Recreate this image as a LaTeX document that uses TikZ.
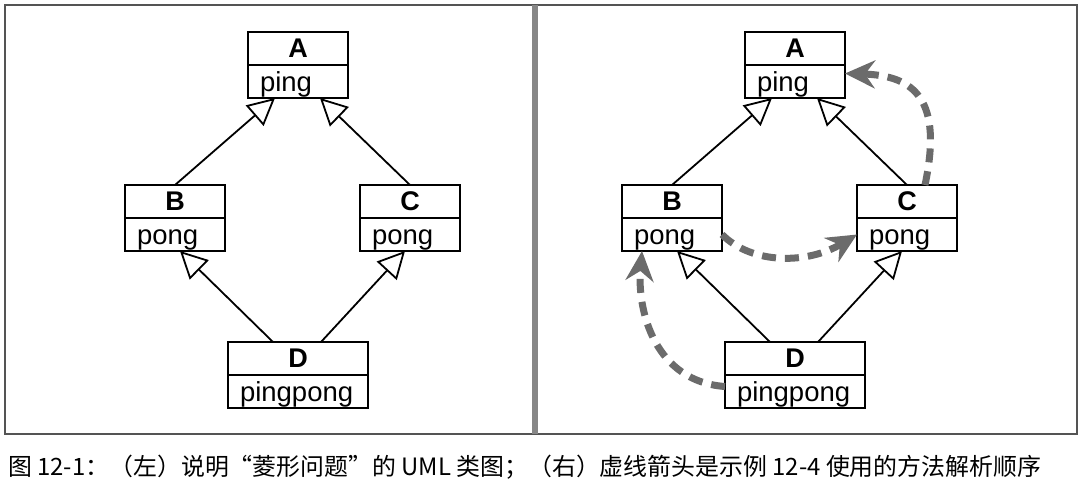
\documentclass[tikz,border=0pt]{standalone}
\usepackage{fontspec}
\setmainfont{Liberation Sans}
\newfontfamily\cjk{Noto Sans CJK SC}
\usepackage{tikz}
\usetikzlibrary{positioning}
\usetikzlibrary{arrows.meta}
\definecolor{framegray}{rgb}{0.33,0.33,0.33}
\definecolor{splitgray}{rgb}{0.53,0.53,0.53}
\definecolor{mrogray}{rgb}{0.42,0.42,0.42}

\begin{document}
\begin{tikzpicture}[x=1pt, y=-1pt,
				clsname/.style = {draw, line width=1.8pt,
					minimum width=#1, minimum height=33pt,
					inner sep=0pt, outer sep=0pt,
					text height=25pt, text depth=8pt,
					font=\fontsize{27}{27}\selectfont\bfseries},
				clsattr/.style = {draw, line width=1.8pt,
					text width=#1, align=left,
					inner xsep=12pt, inner ysep=0pt, outer sep=0pt,
					text height=26pt, text depth=7pt,
					font=\fontsize{27.5}{27.5}\selectfont},
				inh/.style = {line width=1.8pt,
					-{Triangle[open, length=27pt, width=27pt]}},
				mro/.style = {line width=7pt, draw=mrogray,
					dash pattern=on 14pt off 9pt,
					-{Stealth[length=30pt, width=28pt, inset=10pt]}}]
				
				\useasboundingbox (0,0) rectangle (1082,491);
				
				% Frame and split
				\draw[framegray, line width=2pt] (5,5) rectangle (1077,434);
				\draw[splitgray, line width=6pt] (535,5) -- (535,434);
				
				% Left: classes
				\node[clsname=100pt] (A) at (298,48.5) {A};
				\node[clsattr=76pt, below=0pt of A] (Aping) {ping};
				\node[clsname=100pt] (B) at (175,201.5) {B};
				\node[clsattr=76pt, below=0pt of B] (Bpong) {pong};
				\node[clsname=100pt] (C) at (410,201.5) {C};
				\node[clsattr=76pt, below=0pt of C] (Cpong) {pong};
				\node[clsname=140pt] (D) at (298,358.5) {D};
				\node[clsattr=116pt, below=0pt of D] (Dpingpong) {pingpong};
				
				% Left: inheritance
				\draw[inh] (B.north) -- ([xshift=-23pt]Aping.south);
				\draw[inh] (C.north) -- ([xshift=22pt]Aping.south);
				\draw[inh] ([xshift=-25pt]D.north) -- ([xshift=5pt]Bpong.south);
				\draw[inh] ([xshift=23pt]D.north) -- ([xshift=-5pt]Cpong.south);
				
				% Right: classes
				\node[clsname=100pt] (rA) at (795,48.5) {A};
				\node[clsattr=76pt, below=0pt of rA] (rAping) {ping};
				\node[clsname=100pt] (rB) at (672,201.5) {B};
				\node[clsattr=76pt, below=0pt of rB] (rBpong) {pong};
				\node[clsname=100pt] (rC) at (907,201.5) {C};
				\node[clsattr=76pt, below=0pt of rC] (rCpong) {pong};
				\node[clsname=140pt] (rD) at (795,358.5) {D};
				\node[clsattr=116pt, below=0pt of rD] (rDpingpong) {pingpong};
				
				% Right: inheritance
				\draw[inh] (rB.north) -- ([xshift=-23pt]rAping.south);
				\draw[inh] (rC.north) -- ([xshift=22pt]rAping.south);
				\draw[inh] ([xshift=-25pt]rD.north) -- ([xshift=5pt]rBpong.south);
				\draw[inh] ([xshift=23pt]rD.north) -- ([xshift=-5pt]rCpong.south);
				
				% Right: resolution order
				\draw[mro] ([yshift=5pt]rDpingpong.west) .. controls +(-70,-5) and +(-5,60) .. ([xshift=-30pt]rBpong.south);
				\draw[mro] (rBpong.east) .. controls +(30,30) and +(-50,30) .. (rCpong.west);
				\draw[mro] ([xshift=18pt]rC.north) .. controls +(18,-85) and +(70,2) .. ([yshift=8pt]rAping.east);
				
				% Caption
				\node[anchor=west, inner sep=0pt, font=\cjk\fontsize{23.9}{26}\selectfont] (caption) at (8,467)
					{图 12-1：（左）说明“菱形问题”的 UML 类图；（右）虚线箭头是示例 12-4 使用的方法解析顺序};
				
		\end{tikzpicture}
\end{document}
